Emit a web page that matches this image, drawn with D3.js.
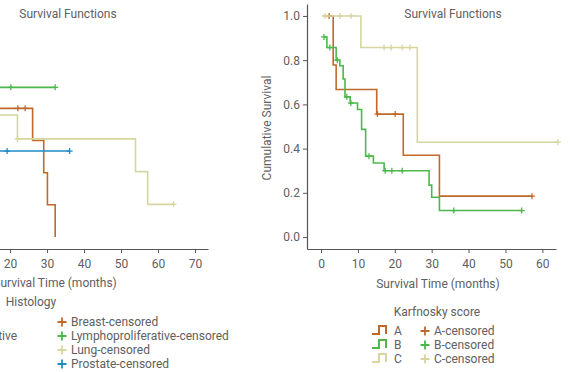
<!DOCTYPE html>
<html>
<head>
<meta charset="utf-8">
<script src="https://cdn.jsdelivr.net/npm/d3@7"></script>
<style>
    body { margin: 0; background: #fff; }
    svg { display: block; font-family: Roboto, "Liberation Sans", sans-serif; }
    .axis path, .axis line { stroke: #555; }
    .axis text { fill: #606060; font-size: 12px; font-family: Roboto, sans-serif; }
    .lbl { fill: #606060; font-size: 12px; }
</style>
</head>
<body>
<div id="plot"></div>
<script>
// ---- left panel: Histology ----
var groupsL = ["Breast", "Lymphoproliferative", "Lung", "Prostate"];
var colorsL = ["#c0692a", "#4cb84c", "#d6d6a0", "#1f8bc4"];
var timeBreast = [15, 26.1, 29.1, 30.1, 32.2];
var survBreast = [0.582, 0.437, 0.291, 0.146, 0.0];
var censBreast = [22.1, 24.1];
var timeLympho = [15, 32.2];
var survLympho = [0.677, 0.677];
var censLympho = [20.2, 32.2];
var timeLung = [15, 22.0, 53.9, 57.2, 64.2];
var survLung = [0.552, 0.444, 0.296, 0.148, 0.148];
var censLung = [22.0, 64.2];
var timeProstate = [15, 36.1];
var survProstate = [0.389, 0.389];
var censProstate = [19.2, 36.1];

// ---- right panel: Karfnosky score ----
var groupsR = ["A", "B", "C"];
var colorsR = ["#c0692a", "#4cb84c", "#d6d6a0"];
var timeA = [0.5, 3.3, 4.1, 15.1, 22.3, 32.1, 57.2];
var survA = [1.0, 0.778, 0.667, 0.556, 0.370, 0.185, 0.185];
var censA = [2.2, 15.3, 20.1, 57.2];
var timeB = [0.8, 1.6, 4.1, 5.1, 6.0, 6.5, 7.9, 9.9, 11.0, 12.1, 14.2, 17.1, 29.3, 30.0, 32.1, 54.4];
var survB = [0.905, 0.857, 0.80, 0.775, 0.715, 0.634, 0.606, 0.577, 0.487, 0.366, 0.335, 0.30, 0.235, 0.18, 0.12, 0.12];
var censB = [0.8, 2.4, 4.4, 7.0, 8.1, 13.0, 17.4, 19.2, 22.0, 36.0, 54.4];
var timeC = [0.5, 10.8, 26.1, 64.2];
var survC = [1.0, 0.857, 0.429, 0.429];
var censC = [1.1, 5.1, 8.1, 17.1, 19.0, 22.0, 24.1, 64.2];

var xTicks = [0, 10, 20, 30, 40, 50, 60, 70];
var yTicks = [0, 0.2, 0.4, 0.6, 0.8, 1.0];

var svg = d3.select("#plot").append("svg")
    .attr("width", 570)
    .attr("height", 372);

var y = d3.scaleLinear().domain([-0.054, 1.054]).range([249, 4]);
var xL = d3.scaleLinear().domain([-3.8, 73.5]).range([-78, 208]);
var xR = d3.scaleLinear().domain([-3.8, 63.7]).range([307, 556]);

// value of a step curve at time t
function survAt(times, surv, t) {
    var v = surv[0];
    for (var i = 0; i < times.length; i++) {
        if (times[i] <= t) v = surv[i];
    }
    return v;
}

function drawPanel(x, series, ticks) {
    var g = svg.append("g");

    g.append("g")
        .attr("class", "axis")
        .attr("transform", "translate(0,249)")
        .call(d3.axisBottom(x).tickValues(ticks).tickFormat(d3.format("d"))
            .tickSize(4).tickSizeOuter(0).tickPadding(6));

    g.append("g")
        .attr("class", "axis")
        .attr("transform", "translate(" + x.range()[0] + ",0)")
        .call(d3.axisLeft(y).tickValues(yTicks).tickFormat(d3.format(".1f"))
            .tickSize(4).tickSizeOuter(0).tickPadding(3));

    g.selectAll(".axis .domain").attr("stroke-width", 1.2);

    var line = d3.line()
        .x(function(d) { return x(d[0]); })
        .y(function(d) { return y(d[1]); })
        .curve(d3.curveStepAfter);

    series.forEach(function(s) {
        var pts = s.time.map(function(t, i) { return [t, s.surv[i]]; });
        g.append("path")
            .attr("d", line(pts))
            .attr("fill", "none")
            .attr("stroke", s.color)
            .attr("stroke-width", 1.6);

        // censored marks
        g.selectAll(null)
            .data(s.cens)
            .enter().append("path")
            .attr("transform", function(t) {
                return "translate(" + x(t) + "," + y(survAt(s.time, s.surv, t)) + ")";
            })
            .attr("d", "M-3,0H3M0,-3V3")
            .attr("stroke", s.color)
            .attr("stroke-width", 1.3);
    });
    return g;
}

drawPanel(xL, [
    { time: timeBreast, surv: survBreast, cens: censBreast, color: colorsL[0] },
    { time: timeLympho, surv: survLympho, cens: censLympho, color: colorsL[1] },
    { time: timeLung, surv: survLung, cens: censLung, color: colorsL[2] },
    { time: timeProstate, surv: survProstate, cens: censProstate, color: colorsL[3] }
], xTicks);

drawPanel(xR, [
    { time: timeA, surv: survA, cens: censA, color: colorsR[0] },
    { time: timeB, surv: survB, cens: censB, color: colorsR[1] },
    { time: timeC, surv: survC, cens: censC, color: colorsR[2] }
], xTicks.slice(0, 7));

// titles and axis labels
svg.append("text").attr("class", "lbl").attr("x", 68).attr("y", 18)
    .attr("text-anchor", "middle").text("Survival Functions");
svg.append("text").attr("class", "lbl").attr("x", 453).attr("y", 18)
    .attr("text-anchor", "middle").text("Survival Functions");
svg.append("text").attr("class", "lbl").attr("x", 55).attr("y", 287)
    .attr("text-anchor", "middle").text("Survival Time (months)");
svg.append("text").attr("class", "lbl").attr("x", 438).attr("y", 288)
    .attr("text-anchor", "middle").text("Survival Time (months)");
svg.append("text").attr("class", "lbl")
    .attr("transform", "translate(271,128) rotate(-90)")
    .attr("text-anchor", "middle").text("Cumulative Survival");

// legends
function drawLegend(title, titleX, titleY, groups, colors, labelX, plusX, rowY) {
    svg.append("text").attr("class", "lbl").attr("x", titleX).attr("y", titleY)
        .attr("text-anchor", "middle").text(title);
    groups.forEach(function(name, i) {
        var by = rowY + i * 14;
        svg.append("path")
            .attr("d", "M" + (labelX - 22) + "," + (by - 1) + "h7v-8h7v8")
            .attr("fill", "none")
            .attr("stroke", colors[i])
            .attr("stroke-width", 2);
        svg.append("text").attr("class", "lbl").attr("x", labelX).attr("y", by).text(name);
        svg.append("path")
            .attr("d", "M" + (plusX - 4.5) + "," + (by - 4) + "h9M" + plusX + "," + (by - 8.5) + "v9")
            .attr("stroke", colors[i])
            .attr("stroke-width", 1.8);
        svg.append("text").attr("class", "lbl").attr("x", plusX + 9).attr("y", by)
            .text(name + "-censored");
    });
}

drawLegend("Histology", 31, 306, groupsL, colorsL, -88, 62, 326);
drawLegend("Karfnosky score", 437, 316, groupsR, colorsR, 394, 425, 335);
</script>
</body>
</html>
